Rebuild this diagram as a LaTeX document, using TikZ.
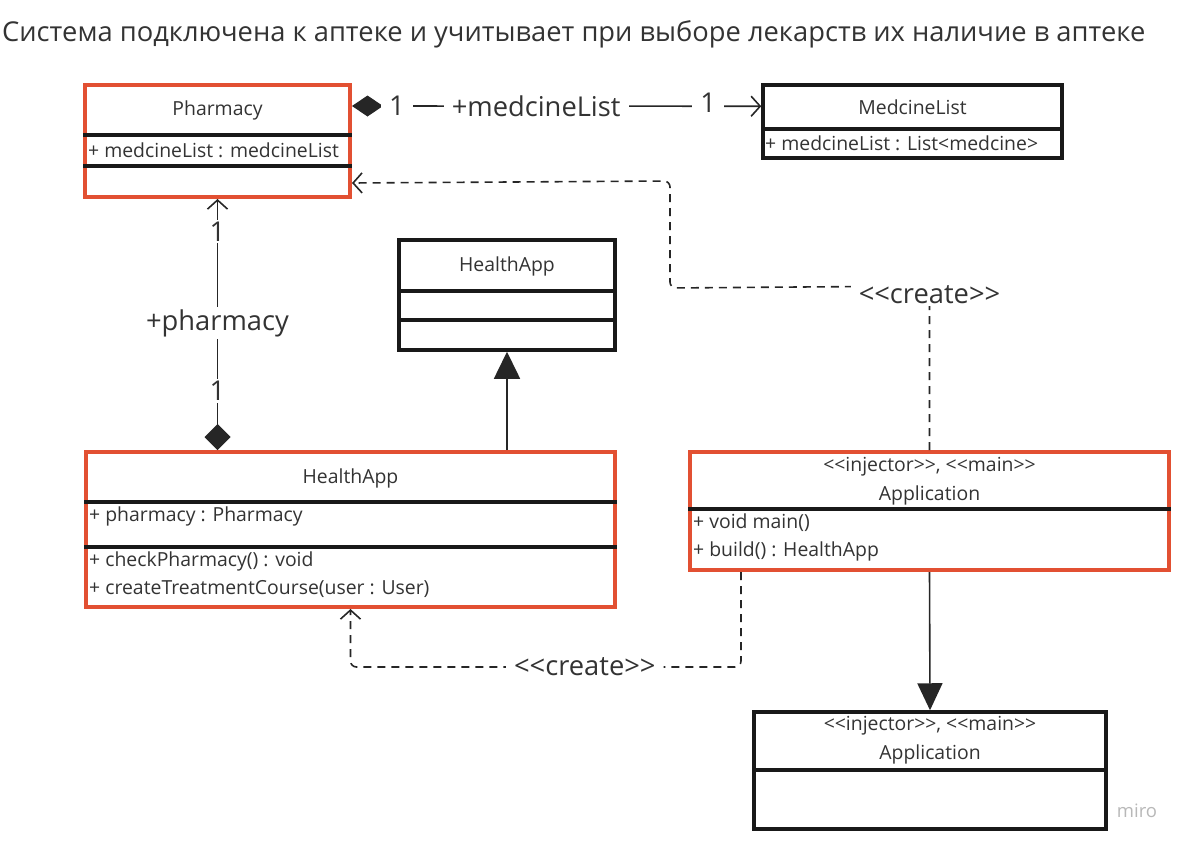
\documentclass[tikz,border=0pt]{standalone}
\usepackage{fontspec}
\setmainfont{Open Sans}[Ligatures=TeXOff]
\usetikzlibrary{arrows.meta,calc,positioning}
\definecolor{boxred}{RGB}{226,80,50}
\definecolor{ink}{RGB}{51,51,51}
\newcommand{\boxfont}{\fontsize{19.4}{23}\selectfont}
\newcommand{\labfont}{\fontsize{27.3}{32}\selectfont}

\begin{document}
\begin{tikzpicture}[x=1pt, y=-1pt,
        umlbox/.style={draw=black!90, line width=3.5pt, inner sep=0pt},
        redbox/.style={umlbox, draw=boxred, line width=4pt},
        sep/.style={black!90, line width=4pt},
        title/.style={font=\boxfont, text=ink, inner sep=0pt},
        member/.style={font=\boxfont, text=ink, inner sep=0pt, anchor=west},
        lab/.style={font=\labfont, text=ink, fill=white, inner xsep=8pt, inner ysep=2pt},
        conn/.style={black!85, line width=1.6pt},
        dep/.style={conn, dash pattern=on 8pt off 6pt, rounded corners=6pt},
        opentip/.style={-{Straight Barb[length=9pt, width=20pt, line width=1.6pt]}}]
    \useasboundingbox (0,0) rectangle (1183,845);
    \node[font=\fontsize{27.3}{32}\selectfont, text=ink, anchor=west, inner sep=0pt] (heading) at (2,34)
        {Система подключена к аптеке и учитывает при выборе лекарств их наличие в аптеке};

    % classes
    \node[redbox, minimum width=265pt, minimum height=112pt] (pharm) at (217.5,141) {};
    \node[title] (pharmname) at (217.5,110) {Pharmacy};
    \draw[sep] (pharm.west |- 0,135) -- (pharm.east |- 0,135);
    \node[member] (pharmattr) at (88,150) {+ medcineList : medcineList};
    \draw[sep] (pharm.west |- 0,166) -- (pharm.east |- 0,166);

    \node[umlbox, minimum width=299pt, minimum height=73pt] (medlist) at (912.5,121.5) {};
    \node[title] (medlistname) at (912.5,107) {MedcineList};
    \draw[sep] (medlist.west |- 0,129) -- (medlist.east |- 0,129);
    \node[member] (medlistattr) at (765,143) {+ medcineList : List<medcine>};

    \node[umlbox, minimum width=216pt, minimum height=110pt] (hparent) at (507,295) {};
    \node[title] (hparentname) at (507,266) {HealthApp};
    \draw[sep] (hparent.west |- 0,291) -- (hparent.east |- 0,291);
    \draw[sep] (hparent.west |- 0,320) -- (hparent.east |- 0,320);

    \node[redbox, minimum width=529pt, minimum height=155pt] (happ) at (350.5,529.5) {};
    \node[title] (happname) at (350.5,478) {HealthApp};
    \draw[sep] (happ.west |- 0,502) -- (happ.east |- 0,502);
    \node[member] (happattr) at (89,516) {+ pharmacy : Pharmacy};
    \draw[sep] (happ.west |- 0,547) -- (happ.east |- 0,547);
    \node[member] (happcheck) at (89,561) {+ checkPharmacy() : void};
    \node[member] (happcourse) at (89,589) {+ createTreatmentCourse(user : User)};

    \node[redbox, minimum width=479pt, minimum height=118pt] (appr) at (929.5,511) {};
    \node[title] (apprstereo) at (929.5,467) {<<injector>>, <<main>>};
    \node[title] (apprname) at (929.5,495) {Application};
    \draw[sep] (appr.west |- 0,509) -- (appr.east |- 0,509);
    \node[member] (apprmain) at (693,523) {+ void main()};
    \node[member] (apprbuild) at (693,551) {+ build() : HealthApp};

    \node[umlbox, minimum width=352pt, minimum height=117pt] (appb) at (930,770.5) {};
    \node[title] (appbstereo) at (930,726) {<<injector>>, <<main>>};
    \node[title] (appbname) at (930,754) {Application};
    \draw[sep] (appb.west |- 0,770) -- (appb.east |- 0,770);

    % relations
    \draw[conn, {Diamond[length=31pt, width=21pt]}-{Straight Barb[length=9pt, width=20pt, line width=1.6pt]}]
        ([yshift=-23pt]pharm.north east) -- ([yshift=-23pt]medlist.north west)
        node[lab, pos=0.11] (m1) {1}
        node[lab, pos=0.45] (mname) {+medcineList}
        node[lab, pos=0.87, yshift=3pt] (m2) {1};
    \draw[conn, {Diamond[length=26pt, width=26pt]}-{Straight Barb[length=9pt, width=20pt, line width=1.6pt]}]
        (pharm.south |- happ.north) -- (pharm.south)
        node[lab, pos=0.235] (p1) {1}
        node[lab, pos=0.506] (pname) {+pharmacy}
        node[lab, pos=0.87] (p2) {1};
    \draw[conn, -{Triangle[length=27pt, width=26pt]}] (hparent.south |- happ.north) -- (hparent.south);
    \draw[conn, -{Triangle[length=27pt, width=25pt]}] (appr.south) -- (appb.north);

    \draw[dep, opentip] (appr.north) -- ++(0,-164) coordinate (cup)
        -- (670,288) -- (670,181) -- ([yshift=16pt]pharm.south east);
    \node[lab] (create1) at ([yshift=-9pt]cup) {<<create>>};
    \draw[dep, opentip] ([xshift=53pt]appr.south west) -- ++(0,95) -| (happ.south)
        node[lab, pos=0.2] (create2) {<<create>>};

    \node[font=\fontsize{18.5}{22}\selectfont, text=black!28, inner sep=0pt] (miro) at (1137,811) {miro};
\end{tikzpicture}
\end{document}
